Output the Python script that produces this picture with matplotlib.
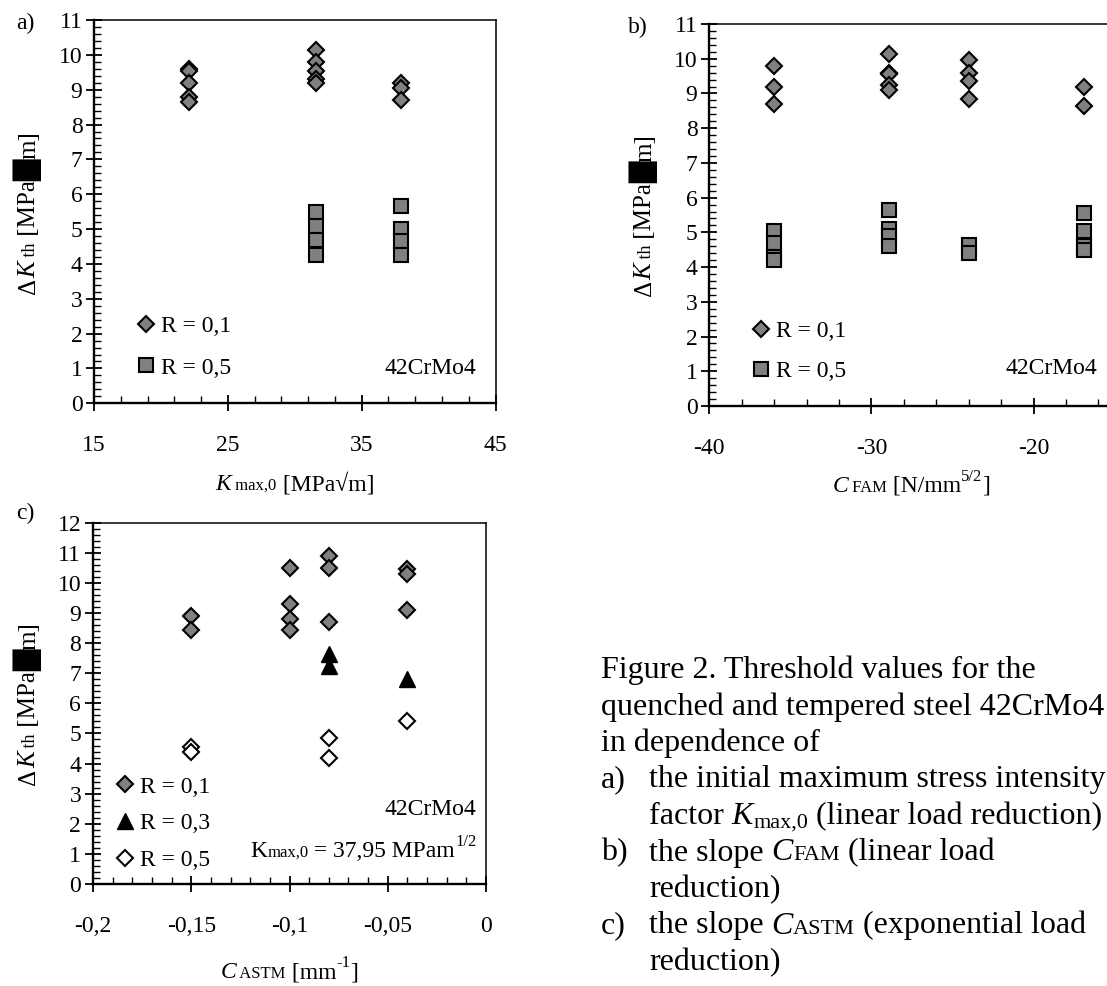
import matplotlib
matplotlib.use('Agg')
import matplotlib.pyplot as plt
import matplotlib.ticker as mticker
from matplotlib.text import Annotation

W, H = 1107, 986
plt.rcParams['font.family'] = ['Liberation Serif', 'DejaVu Sans']
plt.rcParams['font.size'] = 17
plt.rcParams['axes.unicode_minus'] = False

# ---------------- data ----------------
# panel a: Kmax,0 [MPa sqrt m]
a_r01_x = [22.1, 22.1, 22.1, 22.1, 22.1, 31.6, 31.6, 31.6, 31.6, 31.6, 37.95, 37.95, 37.95]
a_r01_y = [9.6, 9.55, 9.2, 8.8, 8.65, 10.15, 9.8, 9.55, 9.3, 9.2, 9.2, 9.05, 8.7]
a_r05_x = [31.6, 31.6, 31.6, 31.6, 37.95, 37.95, 37.95, 37.95]
a_r05_y = [5.5, 5.1, 4.7, 4.25, 5.65, 5.0, 4.65, 4.25]
a_xticks = [15, 25, 35, 45]

# panel b: C_FAM [N/mm^5/2]
b_r01_x = [-36, -36, -36, -28.9, -28.9, -28.9, -28.9, -28.9, -24, -24, -24, -24, -16.9, -16.9]
b_r01_y = [9.8, 9.2, 8.7, 10.15, 9.6, 9.55, 9.25, 9.1, 9.95, 9.6, 9.35, 8.85, 9.2, 8.65]
b_r05_x = [-36, -36, -36, -36, -28.9, -28.9, -28.9, -28.9, -24, -24, -16.9, -16.9, -16.9, -16.9]
b_r05_y = [5.05, 4.7, 4.3, 4.2, 5.65, 5.1, 4.9, 4.6, 4.65, 4.4, 5.55, 5.05, 4.6, 4.5]
b_xticks = [-40, -30, -20]

# panel c: C_ASTM [mm^-1]
c_r01_x = [-0.15, -0.15, -0.1, -0.1, -0.1, -0.1, -0.08, -0.08, -0.08, -0.04, -0.04, -0.04]
c_r01_y = [8.9, 8.45, 10.5, 9.3, 8.8, 8.45, 10.9, 10.5, 8.7, 10.45, 10.3, 9.1]
c_r03_x = [-0.08, -0.08, -0.04]
c_r03_y = [7.65, 7.25, 6.8]
c_r05_x = [-0.15, -0.15, -0.08, -0.08, -0.04]
c_r05_y = [4.55, 4.4, 4.85, 4.2, 5.4]
c_xticks = [-0.2, -0.15, -0.1, -0.05, 0]

labels_ab = ['R = 0,1', 'R = 0,5']
labels_c = ['R = 0,1', 'R = 0,3', 'R = 0,5']

# ---------------- styles ----------------
GRAY = '#808080'
DIA = dict(marker='D', ms=8.3, mfc=GRAY, mec='k', mew=1.5, ls='none')
SQ = dict(marker='s', ms=10, mfc=GRAY, mec='k', mew=1.5, ls='none')
TRI = dict(marker='^', ms=12, mfc='k', mec='k', mew=1, ls='none')
ODIA = dict(marker='D', ms=8.3, mfc='w', mec='k', mew=1.5, ls='none')

fig = plt.figure(figsize=(W / 100, H / 100), dpi=100)


def add_ax(l, t, r, b):
    return fig.add_axes([l / W, 1 - b / H, (r - l) / W, (b - t) / H])


def style_ax(ax, xlim, xticks, xmin, xoff, ylim, ymaj, ymin, fmt=None):
    ax.set_xlim(*xlim)
    ax.set_ylim(*ylim)
    ax.xaxis.set_major_locator(mticker.FixedLocator(xticks))
    ax.xaxis.set_minor_locator(mticker.MultipleLocator(xmin, offset=xoff))
    ax.yaxis.set_major_locator(mticker.MultipleLocator(ymaj))
    ax.yaxis.set_minor_locator(mticker.MultipleLocator(ymin))
    if fmt is not None:
        ax.xaxis.set_major_formatter(fmt)
    ax.tick_params(which='major', direction='inout', length=12, width=1.3, labelsize=17)
    ax.tick_params(which='minor', direction='in', length=5, width=1.0)
    ax.tick_params(axis='x', which='major', pad=17)
    ax.tick_params(axis='y', which='major', pad=2.5)
    for s in ['left', 'bottom']:
        ax.spines[s].set_linewidth(1.7)
    for s in ['top', 'right']:
        ax.spines[s].set_linewidth(1.1)


def legend_at(ax, handles, labels, left_px, top_px, spacing):
    ax.legend(handles, labels, loc='upper left',
              bbox_to_anchor=(left_px / W, 1 - top_px / H), bbox_transform=fig.transFigure,
              frameon=False, fontsize=17, handlelength=0.7, handletextpad=0.3,
              labelspacing=spacing, borderpad=0, borderaxespad=0, numpoints=1)


def rich(pieces, x, y, rotation=0, size=17):
    """Chain of text pieces; (x, y) is the baseline start in top-based pixels."""
    arts = []
    fx, fy = x, H - y
    prev = None
    for txt, kw in pieces:
        kw = dict(kw)
        shift = kw.pop('shift', 0)
        kw.setdefault('fontsize', size)
        if rotation == 0:
            if prev is None:
                a = Annotation(txt, xy=(fx, fy), xycoords='figure pixels',
                               ha='left', va='baseline', **kw)
            else:
                a = Annotation(txt, xy=(1, fy), xycoords=(prev, 'figure pixels'),
                               xytext=(0, shift), textcoords='offset points',
                               ha='left', va='baseline', **kw)
        else:
            if prev is None:
                a = Annotation(txt, xy=(fx, fy), xycoords='figure pixels', rotation=90,
                               rotation_mode='anchor', ha='left', va='baseline', **kw)
            else:
                a = Annotation(txt, xy=(fx, 1), xycoords=('figure pixels', prev),
                               xytext=(-shift, 0), textcoords='offset points', rotation=90,
                               rotation_mode='anchor', ha='left', va='baseline', **kw)
        fig.add_artist(a)
        arts.append(a)
        prev = a
    return arts


# ---------------- panel a ----------------
axa = add_ax(94.2, 20, 495.5, 403.3)
ha1, = axa.plot(a_r01_x, a_r01_y, **DIA)
ha2, = axa.plot(a_r05_x, a_r05_y, **SQ)
style_ax(axa, (15, 45), a_xticks, 2, 1, (0, 11), 1, 0.2)
legend_at(axa, [ha1, ha2], labels_ab, 137.5, 315.5, 0.85)

# ---------------- panel b ----------------
axb = add_ax(709.3, 24, 1195.6, 406)
hb1, = axb.plot(b_r01_x, b_r01_y, **DIA)
hb2, = axb.plot(b_r05_x, b_r05_y, **SQ)
style_ax(axb, (-40, -10), b_xticks, 2, 0, (0, 11), 1, 0.2)
legend_at(axb, [hb1, hb2], labels_ab, 752.7, 320.5, 0.8)

# ---------------- panel c ----------------
comma = mticker.FuncFormatter(lambda v, p: '0' if abs(v) < 1e-9 else ('%g' % round(v, 4)).replace('.', ','))
axc = add_ax(93, 522.7, 486, 884)
hc1, = axc.plot(c_r01_x, c_r01_y, **DIA)
hc2, = axc.plot(c_r03_x, c_r03_y, **TRI)
hc3, = axc.plot(c_r05_x, c_r05_y, **ODIA)
style_ax(axc, (-0.2, 0), c_xticks, 0.01, 0, (0, 12), 1, 0.2, fmt=comma)
legend_at(axc, [hc1, hc2, hc3], labels_c, 116.3, 776, 0.65)

# ---------------- in-plot texts ----------------
for x, y in [(476, 374), (1097, 374), (476, 815)]:
    fig.text(x / W, 1 - y / H, '42CrMo4', ha='right', va='baseline', fontsize=17)

kmax_txt = rich([('K', {}), ('max,0', {'fontsize': 12}), (' = 37,95 MPam', {}),
                 ('1/2', {'fontsize': 12, 'shift': 8})], 240, 856.7)

# panel letters
for x, y, s in [(15.7, 29.5, 'a)'), (628, 33, 'b)'), (15.7, 519.3, 'c)')]:
    fig.text(x / W, 1 - y / H, s, ha='left', va='baseline', fontsize=17)

# axis labels
ylab_pieces = [('Δ', {}), ('K', {'style': 'italic'}), (' th', {'fontsize': 13}),
               (' [MPa', {}), ('█', {'family': 'DejaVu Sans', 'fontsize': 20}), ('m]', {})]
yl_a = rich(ylab_pieces, 35, 300, rotation=90, size=18)
yl_b = rich(ylab_pieces, 651, 300, rotation=90, size=18)
yl_c = rich(ylab_pieces, 35, 790, rotation=90, size=18)

xl_a = rich([('K', {'style': 'italic'}), (' max,0', {'fontsize': 12}), (' [MPa√m]', {})], 210, 490)
xl_b = rich([('C', {'style': 'italic'}), (' FAM', {'fontsize': 12}), (' [N/mm', {}),
             ('5/2', {'fontsize': 12, 'shift': 8}), (']', {})], 830, 491.7)
xl_c = rich([('C', {'style': 'italic'}), (' ASTM', {'fontsize': 12}), (' [mm', {}),
             ('-1', {'fontsize': 12, 'shift': 8}), (']', {})], 220, 978)

# caption
CS = 23
cap_x, item_x = 601, 649
base = [678, 714.5, 751, 787.5, 824, 860.5, 897, 933.5, 970]
rich([('Figure 2. Threshold values for the', {})], cap_x, base[0], size=CS)
rich([('quenched and tempered steel 42CrMo4', {})], cap_x, base[1], size=CS)
rich([('in dependence of', {})], cap_x, base[2], size=CS)
rich([('a)', {})], cap_x, base[3], size=CS)
rich([('the initial maximum stress intensity', {})], item_x, base[3], size=CS)
rich([('factor', {}), (' K', {'style': 'italic'}), ('max,0', {'fontsize': 16, 'shift': -2.5}),
      (' (linear load reduction)', {})], item_x, base[4], size=CS)
rich([('b)', {})], cap_x, base[5], size=CS)
rich([('the slope', {}), (' C', {'style': 'italic'}), ('FAM', {'fontsize': 16}),
      (' (linear load', {})], item_x, base[5], size=CS)
rich([('reduction)', {})], item_x, base[6], size=CS)
rich([('c)', {})], cap_x, base[7], size=CS)
rich([('the slope', {}), (' C', {'style': 'italic'}), ('ASTM', {'fontsize': 16}),
      (' (exponential load', {})], item_x, base[7], size=CS)
rich([('reduction)', {})], item_x, base[8], size=CS)

# ---------------- alignment of composite labels ----------------
fig.canvas.draw()
rend = fig.canvas.get_renderer()


def extent(arts):
    bbs = [a.get_window_extent(rend) for a in arts]
    return (min(b.x0 for b in bbs), min(b.y0 for b in bbs),
            max(b.x1 for b in bbs), max(b.y1 for b in bbs))


def set_base(a, x, y):
    a.xy = (x, y)
    a.xyann = (x, y)


def move_x(arts, target, mode='center'):
    x0, y0, x1, y1 = extent(arts)
    cur = (x0 + x1) / 2 if mode == 'center' else (x1 if mode == 'right' else x0)
    bx, by = arts[0].xyann
    set_base(arts[0], bx + target - cur, by)


def move_y(arts, target_top):
    x0, y0, x1, y1 = extent(arts)
    cur = (y0 + y1) / 2
    bx, by = arts[0].xyann
    set_base(arts[0], bx, by + (H - target_top) - cur)


move_x(xl_a, 294.9)
move_x(xl_b, 911.5)
move_x(xl_c, 289.5)
move_x(kmax_txt, 476.3, mode='right')
move_y(yl_a, 212.5)
move_y(yl_b, 215)
move_y(yl_c, 703.4)

fig.savefig('out.png', dpi=100)
